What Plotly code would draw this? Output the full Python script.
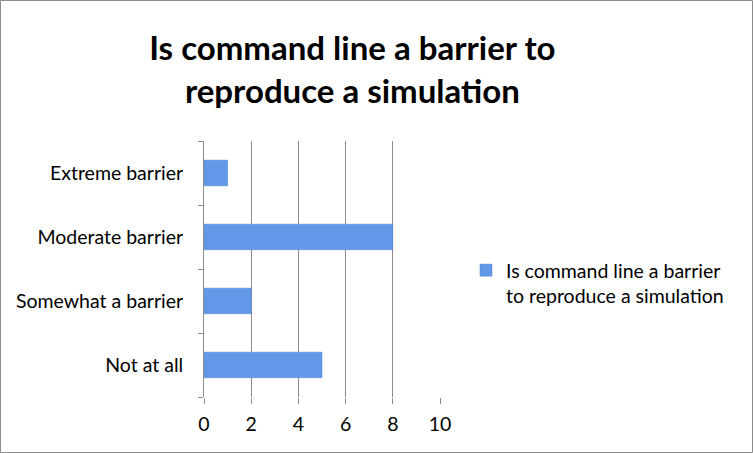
import plotly.graph_objects as go

categories = ["Not at all", "Somewhat a barrier", "Moderate barrier", "Extreme barrier"]
values = [5, 2, 8, 1]
series_name = "Is command line a barrier<br>to reproduce a simulation"
title_text = "Is command line a barrier to<br>reproduce a simulation"
x_ticks = [0, 2, 4, 6, 8, 10]

W, H = 753, 453
L, R, T, B = 204, 313, 141, 56
pw, ph = W - L - R, H - T - B

FONT = "Lato, Open Sans, sans-serif"

fig = go.Figure()
fig.add_trace(go.Bar(
    y=categories, x=values, orientation="h", name=series_name,
    marker=dict(color="#6398e8", line=dict(color="#4a80d6", width=0.5)),
    showlegend=True,
))

fig.update_layout(
    width=W, height=H,
    margin=dict(l=L, r=R, t=T, b=B, autoexpand=False),
    paper_bgcolor="white", plot_bgcolor="white",
    font=dict(family=FONT, size=19.5, color="#000000"),
    bargap=0.6,
    title=dict(text="<b>" + title_text + "</b>", x=0.468, xanchor="center",
               y=1 - 60 / H, yanchor="middle",
               font=dict(family=FONT, size=33, color="#000000")),
    xaxis=dict(range=[0, 10], tickvals=x_ticks, showgrid=True, gridcolor="#8c8c8c",
               gridwidth=1, zeroline=False, showline=False,
               ticks="outside", ticklen=6, tickcolor="#8c8c8c",
               tickfont=dict(size=19.5), ticklabelstandoff=4, fixedrange=True),
    yaxis=dict(showline=True, linecolor="#8c8c8c", linewidth=1,
               ticks="outside", ticklen=5, tickcolor="#8c8c8c",
               tickson="boundaries", showgrid=False,
               tickfont=dict(size=19.5), ticklabelstandoff=16),
    legend=dict(x=(466 - L) / pw, y=(397 - 283) / ph, xanchor="left", yanchor="middle",
                font=dict(size=19.5), bgcolor="rgba(0,0,0,0)", valign="top",
                itemwidth=30, tracegroupgap=0),
    shapes=[dict(type="rect", xref="paper", yref="paper",
                 x0=(0.5 - L) / pw, x1=(W - 0.5 - L) / pw,
                 y0=-(B - 0.5) / ph, y1=1 + (T - 0.5) / ph,
                 line=dict(color="#8c8c8c", width=1), layer="below")],
)

fig.write_html("out.html")
